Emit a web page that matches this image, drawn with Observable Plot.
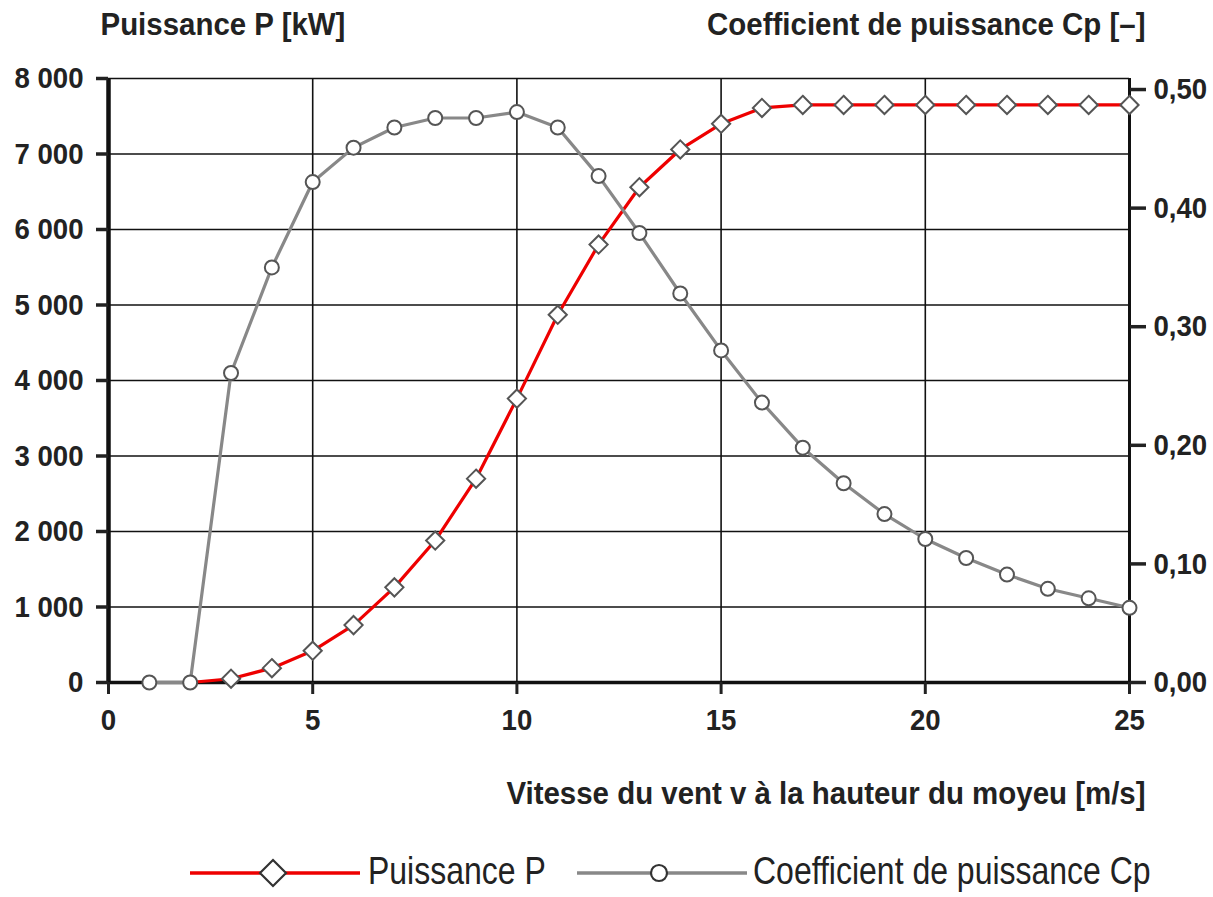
<!DOCTYPE html>
<html><head><meta charset="utf-8">
<script src="https://cdn.jsdelivr.net/npm/d3@7"></script>
<script src="https://cdn.jsdelivr.net/npm/@observablehq/plot@0.6"></script>
<style>
body{margin:0;background:#fff;}
#wrap{position:relative;width:1213px;height:897px;overflow:hidden;font-family:"Liberation Sans",Arial,sans-serif;}
#legend{position:absolute;left:0;top:840px;width:1213px;height:57px;}
.lg{position:absolute;top:11px;font-size:39px;line-height:39px;color:#222;white-space:nowrap;transform:scaleX(0.82);transform-origin:0 50%;}
</style></head>
<body><div id="wrap"><div id="chart"></div><div id="legend"></div></div>
<script>
// ---- data ----
const cpSpeed = [1,2,3,4,5,6,7,8,9,10,11,12,13,14,15,16,17,18,19,20,21,22,23,24,25];
const cpValues = [0,0,0.261,0.350,0.422,0.451,0.468,0.476,0.476,0.481,0.468,0.427,0.379,0.328,0.280,0.236,0.198,0.168,0.142,0.121,0.105,0.091,0.079,0.071,0.063];
const powerSpeed = [2,3,4,5,6,7,8,9,10,11,12,13,14,15,16,17,18,19,20,21,22,23,24,25];
const powerValues = [0,50,190,420,760,1260,1880,2700,3760,4870,5800,6560,7060,7400,7610,7650,7650,7650,7650,7650,7650,7650,7650,7650];
const xTicks = [0,5,10,15,20,25];
const pTicks = [0,1000,2000,3000,4000,5000,6000,7000,8000];
const cpTicks = [0,0.1,0.2,0.3,0.4,0.5];
const cpTop = 0.5093; // Cp value at top of frame (8000 kW)
const titleLeft = "Puissance P [kW]";
const titleRight = "Coefficient de puissance Cp [–]";
const xLabel = "Vitesse du vent v à la hauteur du moyeu [m/s]";
const legendP = "Puissance P";
const legendCp = "Coefficient de puissance Cp";

const K = 8000 / cpTop;
const loc = d3.formatLocale({decimal:",", thousands:" ", grouping:[3], currency:["",""]});
const fmtP = d => loc.format(",")(d);
const fmtCp = d => loc.format(".2f")(d / K);

const power = powerSpeed.map((v,i)=>({v, p: powerValues[i]}));
const cp = cpSpeed.map((v,i)=>({v, c: cpValues[i]*K}));

const FONT = '"Liberation Sans",Arial,sans-serif';
const chart = Plot.plot({
  width: 1213, height: 840,
  marginLeft: 108, marginRight: 84, marginTop: 78, marginBottom: 158,
  style: {fontFamily: FONT, color: "#222", background: "#fff"},
  x: {domain: [0,25]},
  y: {domain: [0,8000]},
  marks: [
    Plot.ruleY(pTicks, {stroke: "#111", strokeWidth: 1.6}),
    Plot.ruleX(xTicks.slice(1,-1), {stroke: "#111", strokeWidth: 1.6}),
    Plot.ruleY([0], {stroke: "#111", strokeWidth: 3.5}),
    Plot.ruleX([0], {y1: 0, y2: 8000, stroke: "#111", strokeWidth: 4.5}),
    Plot.ruleX([25], {y1: 0, y2: 8000, stroke: "#111", strokeWidth: 3}),
    Plot.axisY(pTicks, {anchor: "left", tickSize: 12, tickPadding: 13, tickFormat: fmtP, fontSize: 30, fontWeight: "bold", strokeWidth: 3.5, label: null}),
    Plot.axisY(cpTicks.map(d=>d*K), {anchor: "right", tickSize: 16, tickPadding: 8, tickFormat: fmtCp, fontSize: 30, fontWeight: "bold", strokeWidth: 3.5, label: null}),
    Plot.axisX(xTicks, {anchor: "bottom", tickSize: 12, tickPadding: 14, fontSize: 30, fontWeight: "bold", strokeWidth: 3, label: null}),
    Plot.line(power, {x: "v", y: "p", stroke: "#ee0000", strokeWidth: 3.2}),
    Plot.line(cp, {x: "v", y: "c", stroke: "#888", strokeWidth: 3.2}),
    Plot.dot(power.filter(d=>d.v>=3), {x: "v", y: "p", symbol: "diamond2", r: 8.2, fill: "#fff", stroke: "#555", strokeWidth: 2}),
    Plot.dot(cp, {x: "v", y: "c", r: 7, fill: "#fff", stroke: "#555", strokeWidth: 2}),
    Plot.text([titleLeft], {frameAnchor: "top-left", dx: -8, dy: -54, textAnchor: "start", lineAnchor: "middle", fontSize: 32, fontWeight: "bold", fill: "#222"}),
    Plot.text([titleRight], {frameAnchor: "top-right", dx: 16, dy: -54, textAnchor: "end", lineAnchor: "middle", fontSize: 32, fontWeight: "bold", fill: "#222"}),
    Plot.text([xLabel], {frameAnchor: "bottom-right", dx: 16, dy: 111, textAnchor: "end", lineAnchor: "middle", fontSize: 32, fontWeight: "bold", fill: "#222"})
  ]
});
document.getElementById("chart").appendChild(chart);

// legend
const lg = document.getElementById("legend");
lg.innerHTML = `
<svg width="1213" height="57" style="position:absolute;left:0;top:0">
  <line x1="190" x2="360" y1="33" y2="33" stroke="#ee0000" stroke-width="3.5"/>
  <path d="M273,20 L286,33 L273,46 L260,33 Z" fill="#fff" stroke="#333" stroke-width="2.2"/>
  <line x1="577" x2="747" y1="33" y2="33" stroke="#888" stroke-width="3.5"/>
  <circle cx="659" cy="33" r="8" fill="#fff" stroke="#333" stroke-width="2.2"/>
</svg>
<span class="lg" style="left:368px">${legendP}</span>
<span class="lg" style="left:753px">${legendCp}</span>`;

// condense chart text horizontally (condensed typeface look)
function squeeze(root, f) {
  root.querySelectorAll("text").forEach(t => {
    const spans = t.querySelectorAll("tspan");
    const els = spans.length ? Array.from(spans) : [t];
    els.forEach(e => {
      const L = e.getComputedTextLength();
      if (L > 0) { e.setAttribute("textLength", (L * f).toFixed(1)); e.setAttribute("lengthAdjust", "spacingAndGlyphs"); }
    });
  });
}
squeeze(chart, 0.92);
</script></body></html>
